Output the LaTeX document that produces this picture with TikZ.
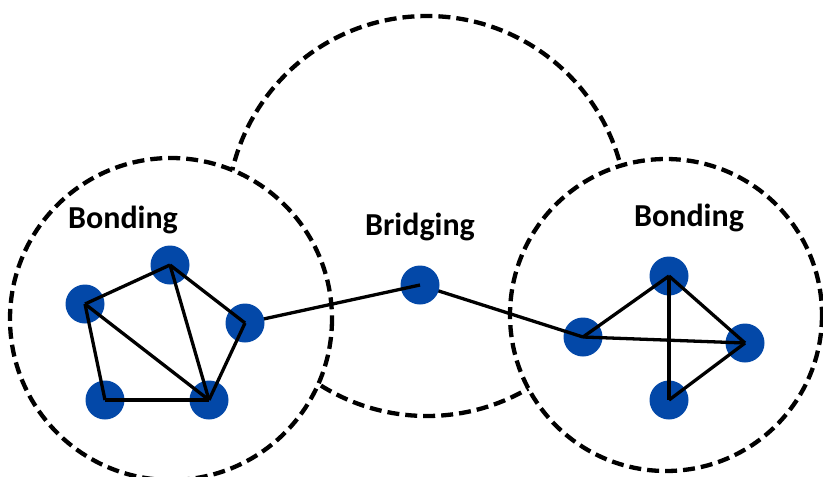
\documentclass[tikz,border=0pt]{standalone}
\usepackage{fontspec}
\setmainfont{Carlito}
\definecolor{nodeblue}{RGB}{3,72,168}
\begin{document}
\begin{tikzpicture}[x=1pt,y=-1pt,
  group/.style={draw=black,line width=4.3pt,dash pattern=on 12pt off 6pt},
  vert/.style={circle,fill=nodeblue,minimum size=39pt,inner sep=0pt},
  edge/.style={line width=3.3pt,black},
  lbl/.style={anchor=base,font=\bfseries\fontsize{32}{32}\selectfont}]
\useasboundingbox (0,0) rectangle (823,477);
% groups
\draw[group] (427,216) circle (200);
\draw[group,fill=white] (171,319) circle (161);
\draw[group,fill=white] (666,315) circle (156);
% labels
\node[lbl] (lb1) at (123,228) {Bonding};
\node[lbl] (lb2) at (420,235) {Bridging};
\node[lbl] (lb3) at (689,226) {Bonding};
% right cluster
\node[vert] (F) at (583,337) {};
\node[vert] (G) at (669,276) {};
\node[vert] (H) at (745,343) {};
\node[vert] (I) at (669,400) {};
\draw[edge] (F.center) -- (G.center);
\draw[edge] (F.center) -- (H.center);
\draw[edge] (G.center) -- (H.center);
\draw[edge] (G.center) -- (I.center);
\draw[edge] (I.center) -- (H.center);
% bridge
\draw[edge] (420,285) coordinate (Xc) -- (F.center);
\node[vert] (X) at (Xc) {};
% left cluster
\node[vert] (A) at (170,265) {};
\node[vert] (B) at (85,304) {};
\node[vert] (D) at (105,400) {};
\node[vert] (E) at (209,400) {};
\draw[edge] (X.center) -- (245,323) coordinate (Cc);
\node[vert] (C) at (Cc) {};
\draw[edge] (B.center) -- (A.center);
\draw[edge] (A.center) -- (C.center);
\draw[edge] (A.center) -- (E.center);
\draw[edge] (B.center) -- (E.center);
\draw[edge] (B.center) -- (D.center);
\draw[edge] (D.center) -- (E.center);
\draw[edge] (C.center) -- (E.center);
\end{tikzpicture}
\end{document}
